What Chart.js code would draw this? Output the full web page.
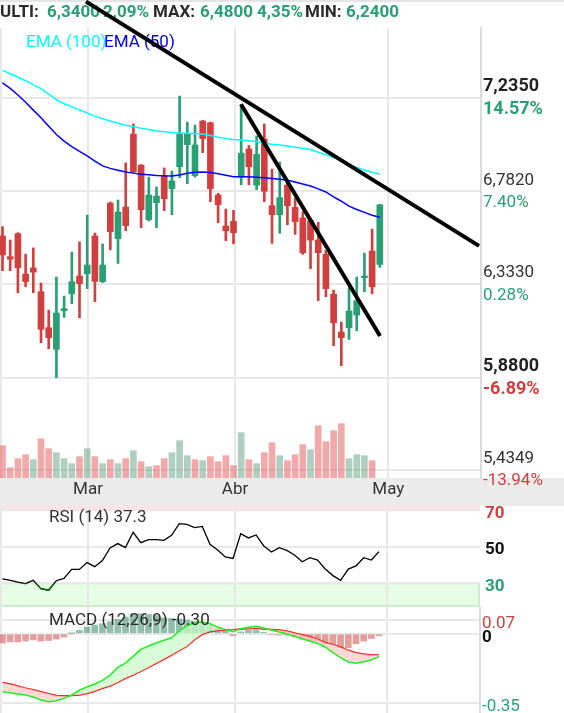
<!DOCTYPE html>
<html>
<head>
<meta charset="utf-8">
<script src="https://cdn.jsdelivr.net/npm/chart.js@4"></script>
<style>
  body { margin: 0; background: #fff; }
  canvas { position: absolute; left: 0; }
</style>
</head>
<body>
<canvas id="main" width="564" height="506" style="top:0px"></canvas>
<canvas id="rsi" width="564" height="102" style="top:505px"></canvas>
<canvas id="macd" width="564" height="106" style="top:607px"></canvas>
<script>
// --- data (one entry per trading day) ---
const opens = [6.566, 6.466, 6.577, 6.382, 6.411, 6.296, 6.122, 6.017, 6.204, 6.286,
  6.372, 6.383, 6.566, 6.345, 6.725, 6.553, 6.706, 7.059, 6.908, 6.645,
  6.727, 6.859, 6.795, 6.901, 7.008, 6.858, 7.122, 7.114, 6.764, 6.614,
  6.637, 6.850, 6.987, 6.812, 7.035, 6.712, 6.669, 6.812, 6.704, 6.653,
  6.640, 6.546, 6.478, 6.285, 6.101, 6.122, 6.183, 6.364, 6.493, 6.428];
const highs = [6.611, 6.546, 6.582, 6.478, 6.508, 6.338, 6.207, 6.367, 6.275, 6.488,
  6.537, 6.667, 6.580, 6.527, 6.730, 6.740, 6.919, 7.108, 6.912, 6.851,
  6.803, 6.895, 6.880, 7.243, 7.117, 7.103, 7.125, 7.117, 6.772, 6.696,
  6.690, 7.203, 7.004, 7.050, 7.108, 6.890, 6.924, 6.827, 6.748, 6.683,
  6.643, 6.632, 6.496, 6.304, 6.149, 6.316, 6.367, 6.483, 6.599, 6.719];
const lows = [6.398, 6.398, 6.291, 6.320, 6.291, 6.049, 6.020, 5.880, 6.172, 6.238,
  6.170, 6.311, 6.248, 6.341, 6.499, 6.433, 6.591, 6.872, 6.606, 6.638,
  6.606, 6.688, 6.669, 6.848, 6.819, 6.851, 6.969, 6.732, 6.630, 6.543,
  6.528, 6.814, 6.814, 6.790, 6.732, 6.530, 6.579, 6.620, 6.574, 6.477,
  6.408, 6.253, 6.272, 6.035, 5.938, 6.065, 6.107, 6.296, 6.286, 6.414];
const closes = [6.474, 6.454, 6.412, 6.345, 6.391, 6.114, 6.074, 6.193, 6.214, 6.345,
  6.335, 6.425, 6.346, 6.425, 6.587, 6.682, 6.616, 6.877, 6.693, 6.764,
  6.759, 6.746, 6.832, 7.059, 7.062, 7.006, 7.037, 6.795, 6.717, 6.591,
  6.582, 6.967, 6.901, 6.961, 6.782, 6.669, 6.751, 6.712, 6.635, 6.485,
  6.546, 6.485, 6.311, 6.146, 6.074, 6.203, 6.253, 6.372, 6.320, 6.717];
const volumes = [97, 31, 58, 70, 55, 118, 88, 76, 58, 43,
  64, 88, 64, 43, 55, 43, 58, 82, 49, 34,
  37, 58, 76, 112, 67, 55, 52, 64, 49, 67,
  37, 136, 55, 43, 76, 106, 67, 52, 70, 100,
  85, 157, 109, 142, 163, 58, 70, 67, 52, null];
const volUp = [0, 0, 0, 0, 1, 0, 0, 1, 1, 1,
  0, 1, 0, 1, 0, 1, 0, 1, 0, 1,
  0, 0, 1, 1, 1, 0, 1, 0, 0, 0,
  0, 1, 0, 1, 0, 0, 1, 0, 0, 0,
  1, 0, 0, 0, 0, 1, 1, 1, 0, 1];
const ema100 = [7.367, 7.351, 7.335, 7.317, 7.298, 7.279, 7.252, 7.226, 7.206, 7.191,
  7.176, 7.161, 7.146, 7.133, 7.122, 7.111, 7.102, 7.095, 7.087, 7.081,
  7.074, 7.070, 7.067, 7.064, 7.063, 7.062, 7.059, 7.052, 7.044, 7.037,
  7.033, 7.030, 7.027, 7.023, 7.015, 7.010, 7.006, 7.001, 6.995, 6.990,
  6.984, 6.971, 6.959, 6.946, 6.931, 6.913, 6.898, 6.885, 6.874, 6.866];
const ema50 = [7.307, 7.280, 7.248, 7.213, 7.175, 7.138, 7.097, 7.057, 7.025, 6.998,
  6.975, 6.954, 6.928, 6.905, 6.893, 6.884, 6.875, 6.870, 6.865, 6.862,
  6.859, 6.857, 6.856, 6.861, 6.869, 6.874, 6.876, 6.873, 6.867, 6.860,
  6.853, 6.853, 6.852, 6.850, 6.848, 6.844, 6.840, 6.836, 6.827, 6.817,
  6.808, 6.794, 6.779, 6.755, 6.734, 6.710, 6.694, 6.680, 6.666, 6.657];
const rsi = [32.4, 31.6, 30.7, 29.8, 31.6, 27.1, 26.2, 31.4, 32.7, 37.6,
  37.6, 41.3, 39.1, 42.4, 49.3, 51.7, 49.5, 57.9, 52.2, 53.9,
  53.9, 53.5, 56.2, 62.6, 62.2, 60.4, 61.1, 51.3, 48.2, 44.4,
  43.6, 57.1, 54.8, 56.4, 50.4, 47.1, 49.5, 48.0, 45.5, 41.8,
  44.0, 42.7, 37.8, 34.2, 31.6, 37.8, 39.5, 44.0, 42.7, 47.3];
const macdLine = [-0.294, -0.299, -0.306, -0.311, -0.321, -0.336, -0.345, -0.340, -0.328, -0.311,
  -0.287, -0.270, -0.255, -0.237, -0.210, -0.171, -0.149, -0.115, -0.079, -0.062,
  -0.047, -0.033, -0.020, 0.014, 0.041, 0.056, 0.060, 0.051, 0.034, 0.021,
  0.011, 0.026, 0.033, 0.038, 0.029, 0.019, 0.009, 0.000, -0.013, -0.025,
  -0.037, -0.049, -0.067, -0.096, -0.121, -0.143, -0.150, -0.142, -0.133, -0.116];
const signalLine = [-0.248, -0.255, -0.265, -0.276, -0.284, -0.294, -0.304, -0.314, -0.316, -0.314,
  -0.311, -0.303, -0.292, -0.277, -0.265, -0.247, -0.226, -0.210, -0.191, -0.171,
  -0.150, -0.130, -0.108, -0.086, -0.064, -0.030, -0.003, 0.011, 0.017, 0.019,
  0.021, 0.024, 0.026, 0.028, 0.024, 0.022, 0.019, 0.014, 0.004, -0.005,
  -0.015, -0.027, -0.044, -0.055, -0.067, -0.084, -0.096, -0.103, -0.108, -0.108];
const macdHist = [-0.047, -0.041, -0.041, -0.037, -0.031, -0.037, -0.034, -0.027, -0.017, 0.002,
  0.017, 0.034, 0.044, 0.051, 0.061, 0.073, 0.085, 0.102, 0.102, 0.098,
  0.093, 0.081, 0.078, 0.075, 0.069, 0.061, 0.054, 0.044, 0.031, 0.014,
  -0.009, 0.010, 0.017, 0.017, 0.007, -0.005, -0.007, -0.007, -0.014, -0.027,
  -0.037, -0.037, -0.051, -0.054, -0.068, -0.071, -0.051, -0.037, -0.024, -0.010];
// trend lines drawn by the user: [day index, price]
const trendA = [[10.84, 7.700], [61.88, 6.518]];
const trendB = [[30.97, 7.203], [49.03, 6.082]];

const monthTicks = [-0.2, 11.1, 30.2, 50.1];
const monthLabels = ['', 'Mar', 'Abr', 'May'];
const priceTicks = [7.2350, 6.7820, 6.3330, 5.8800, 5.4349];
const priceLabels = ['7,2350', '6,7820', '6,3330', '5,8800', '5,4349'];
const pctLabels = ['14.57%', '7.40%', '0.28%', '-6.89%', '-13.94%'];
const rsiTicks = [70, 50, 30];
const macdTicks = [0.07, 0, -0.35];
const headerParts = ['ULTI:', '6,3400', '2,09%', 'MAX:', '6,4800', '4,35%', 'MIN:', '6,2400'];

// --- styling ---
const GREEN = '#28a074';
const RED = '#d23f3f';
const GRID = '#e8e8e8';
const FONT = 'Roboto';
const boldTicks = [true, false, false, true, false];
const headerX = [0, 47, 103, 153, 200, 257, 305, 346];
const X_MIN = -0.325, X_MAX = 62.14;

Chart.defaults.font.family = FONT;
Chart.defaults.animation = false;

const idx = opens.map((_, i) => i);
const up = idx.map((i) => closes[i] >= opens[i]);
const pts = (arr) => arr.map((y, i) => ({ x: i, y }));

function monthAxis(showLabels) {
  return {
    type: "linear",
    min: X_MIN,
    max: X_MAX,
    offset: false,
    afterBuildTicks: (a) => { a.ticks = monthTicks.map((v) => ({ value: v })); },
    afterFit: (s) => { s.height = showLabels ? 28 : 0; s.paddingLeft = 0; s.paddingRight = 0; },
    ticks: {
      display: showLabels,
      autoSkip: false,
      maxRotation: 0,
      padding: 2,
      color: "#333",
      font: { size: 17 },
      callback: (v, i) => monthLabels[i],
    },
    grid: { color: GRID, lineWidth: 2, drawTicks: false, offset: false },
    border: { display: false },
  };
}

// --- main panel: candles, EMAs, volume, trend lines ---
const mainDecor = {
  id: "mainDecor",
  beforeDraw(chart) {
    const { ctx, chartArea } = chart;
    ctx.save();
    ctx.fillStyle = "#e4e4e4";
    ctx.fillRect(0, 0, chart.width, 2);
    ctx.fillStyle = "#ebebeb";
    ctx.fillRect(0, chartArea.bottom, chart.width, chart.height - chartArea.bottom);
    ctx.restore();
  },
  beforeDatasetsDraw(chart) {
    const { ctx } = chart;
    ctx.save();
    ctx.textBaseline = "middle";
    ctx.textAlign = "left";
    ctx.font = "bold 17px " + FONT;
    headerParts.forEach((t, i) => {
      ctx.fillStyle = t.endsWith(":") ? "#2b2b2b" : GREEN;
      ctx.fillText(t, headerX[i], 13);
    });
    ctx.font = "17px " + FONT;
    ctx.fillStyle = "#00ffff";
    ctx.fillText("EMA (100)", 26, 43);
    ctx.fillStyle = "#0000ff";
    ctx.fillText("EMA (50)", 104, 43);
    ctx.restore();
  },
  afterDraw(chart) {
    const { ctx } = chart;
    const y = chart.scales.y;
    ctx.save();
    ctx.textBaseline = "middle";
    ctx.textAlign = "left";
    priceTicks.forEach((v, i) => {
      const py = y.getPixelForValue(v);
      ctx.font = (boldTicks[i] ? "bold 18px " : "17px ") + FONT;
      ctx.fillStyle = boldTicks[i] ? "#222" : "#333";
      ctx.fillText(priceLabels[i], 483, py - 11);
      ctx.fillStyle = pctLabels[i].startsWith("-") ? RED : GREEN;
      ctx.fillText(pctLabels[i], 483, py + 11.5);
    });
    ctx.restore();
  },
};

new Chart(document.getElementById("main"), {
  type: "bar",
  data: {
    datasets: [
      {
        type: "line",
        data: trendA.map(([x, y]) => ({ x, y })),
        borderColor: "#000",
        borderWidth: 4,
        pointRadius: 0,
        clip: false,
        order: 0,
      },
      {
        type: "line",
        data: trendB.map(([x, y]) => ({ x, y })),
        borderColor: "#000",
        borderWidth: 4,
        pointRadius: 0,
        clip: false,
        order: 0,
      },
      {
        type: "line",
        data: pts(ema100),
        borderColor: "#00ffff",
        borderWidth: 1.5,
        pointRadius: 0,
        order: 1,
      },
      {
        type: "line",
        data: pts(ema50),
        borderColor: "#0000ff",
        borderWidth: 1.5,
        pointRadius: 0,
        order: 1,
      },
      {
        data: idx.map((i) => ({ x: i, y: [opens[i], closes[i]] })),
        backgroundColor: up.map((u) => (u ? GREEN : RED)),
        barThickness: 6,
        grouped: false,
        order: 2,
      },
      {
        data: idx.map((i) => ({ x: i, y: [lows[i], highs[i]] })),
        backgroundColor: up.map((u) => (u ? GREEN : RED)),
        barThickness: 2,
        grouped: false,
        order: 3,
      },
      {
        yAxisID: "yv",
        data: idx.filter((i) => volumes[i] !== null).map((i) => ({ x: i, y: volumes[i] })),
        backgroundColor: idx
          .filter((i) => volumes[i] !== null)
          .map((i) => (volUp[i] ? "rgba(97,159,129,0.5)" : "rgba(229,83,83,0.5)")),
        barThickness: 6,
        grouped: false,
        order: 4,
      },
    ],
  },
  options: {
    responsive: false,
    devicePixelRatio: 1,
    layout: { padding: { top: 28, left: 0, right: 0, bottom: 0 } },
    plugins: { legend: { display: false }, tooltip: { enabled: false } },
    scales: {
      x: monthAxis(true),
      y: {
        position: "right",
        min: 5.3947,
        max: 7.5723,
        afterBuildTicks: (a) => { a.ticks = priceTicks.map((v) => ({ value: v })); },
        afterFit: (s) => { s.width = 83; s.paddingTop = 0; s.paddingBottom = 0; },
        ticks: { display: false },
        grid: { color: GRID, lineWidth: 2, drawTicks: false },
        border: { color: "#dcdcdc", width: 2 },
      },
      yv: { display: false, min: 0, max: 1350 },
    },
  },
  plugins: [mainDecor],
});

// --- RSI panel ---
const clipBelow = {
  id: "clipBelow",
  beforeDatasetDraw(chart, args) {
    const ds = chart.data.datasets[args.index];
    if (ds.clipBelow === undefined) return;
    const a = chart.chartArea;
    const py = chart.scales.y.getPixelForValue(ds.clipBelow);
    chart.ctx.save();
    chart.ctx.beginPath();
    chart.ctx.rect(a.left, py, a.right - a.left, a.bottom - py);
    chart.ctx.clip();
  },
  afterDatasetDraw(chart, args) {
    if (chart.data.datasets[args.index].clipBelow !== undefined) chart.ctx.restore();
  },
};

const rsiDecor = {
  id: "rsiDecor",
  beforeDraw(chart) {
    const { ctx, chartArea: a } = chart;
    const y = chart.scales.y;
    const y70 = y.getPixelForValue(70);
    const y30 = y.getPixelForValue(30);
    ctx.save();
    ctx.fillStyle = "#fde4e4";
    ctx.fillRect(a.left, a.top, a.right - a.left, y70 - a.top);
    ctx.fillStyle = "#e6fde6";
    ctx.fillRect(a.left, y30, a.right - a.left, a.bottom - y30);
    ctx.strokeStyle = "#cdeccd";
    ctx.lineWidth = 2;
    ctx.strokeRect(a.left - 2, y30, a.right - a.left + 1, a.bottom - y30 - 1);
    ctx.restore();
  },
  afterDraw(chart) {
    const { ctx } = chart;
    ctx.save();
    ctx.font = "17px " + FONT;
    ctx.fillStyle = "#333";
    ctx.textBaseline = "middle";
    ctx.fillText("RSI (14) 37.3", 49, 12.5);
    ctx.restore();
  },
};

const tickColor = (v, pos, neg) => (v > 0.5 * (macdTicks[0] + rsiTicks[0]) ? pos : v < 0 || v === 30 ? neg : "#111");

new Chart(document.getElementById("rsi"), {
  type: "line",
  data: {
    datasets: [
      { data: pts(rsi), borderColor: "#0a6a0a", borderWidth: 1.3, pointRadius: 0, clipBelow: 30, order: 0 },
      { data: pts(rsi), borderColor: "#000", borderWidth: 1.3, pointRadius: 0, order: 1 },
    ],
  },
  options: {
    responsive: false,
    devicePixelRatio: 1,
    layout: { padding: 0 },
    plugins: { legend: { display: false }, tooltip: { enabled: false } },
    scales: {
      x: monthAxis(false),
      y: {
        position: "right",
        min: 17.05,
        max: 72.79,
        afterBuildTicks: (a) => { a.ticks = rsiTicks.map((v) => ({ value: v })); },
        afterFit: (s) => { s.width = 84; s.paddingTop = 0; s.paddingBottom = 0; },
        ticks: {
          padding: 5,
          labelOffset: 3.5,
          font: { size: 17, weight: "bold" },
          color: (c) => (c.tick.value === 70 ? RED : c.tick.value === 30 ? GREEN : "#111"),
        },
        grid: { color: GRID, lineWidth: 2, drawTicks: false },
        border: { display: false },
      },
    },
  },
  plugins: [rsiDecor, clipBelow],
});

// --- MACD panel ---
const macdDecor = {
  id: "macdDecor",
  afterDatasetsDraw(chart) {
    const { ctx } = chart;
    ctx.save();
    ctx.font = "17px " + FONT;
    ctx.fillStyle = "#2b2b2b";
    ctx.textBaseline = "middle";
    ctx.fillText("MACD (12,26,9) -0.30", 49, 13.7);
    ctx.restore();
  },
};

new Chart(document.getElementById("macd"), {
  type: "bar",
  data: {
    datasets: [
      {
        type: "line",
        data: pts(macdLine),
        borderColor: "#22ee22",
        borderWidth: 1.5,
        pointRadius: 0,
        fill: { target: 1, above: "rgba(200,250,200,0.7)", below: "rgba(255,200,200,0.7)" },
        order: 0,
      },
      {
        type: "line",
        data: pts(signalLine),
        borderColor: "#ff0000",
        borderWidth: 1.5,
        pointRadius: 0,
        order: 1,
      },
      {
        data: pts(macdHist),
        backgroundColor: macdHist.map((v) => (v >= 0 ? "rgba(40,130,90,0.5)" : "rgba(200,60,60,0.5)")),
        barThickness: 6,
        grouped: false,
        order: 2,
      },
    ],
  },
  options: {
    responsive: false,
    devicePixelRatio: 1,
    layout: { padding: 0 },
    plugins: { legend: { display: false }, tooltip: { enabled: false } },
    scales: {
      x: monthAxis(false),
      y: {
        position: "right",
        min: -0.4024,
        max: 0.136,
        afterBuildTicks: (a) => { a.ticks = macdTicks.map((v) => ({ value: v })); },
        afterFit: (s) => { s.width = 84; s.paddingTop = 0; s.paddingBottom = 0; },
        ticks: {
          padding: 2,
          labelOffset: 4,
          font: (c) => ({ size: 17, weight: c.tick && c.tick.value === 0 ? "bold" : "normal" }),
          color: (c) => (c.tick.value > 0 ? RED : c.tick.value < 0 ? GREEN : "#111"),
          callback: (v) => String(v),
        },
        grid: { color: GRID, lineWidth: 2, drawTicks: false },
        border: { color: "#dcdcdc", width: 2 },
      },
    },
  },
  plugins: [macdDecor],
});
</script>
</body>
</html>
